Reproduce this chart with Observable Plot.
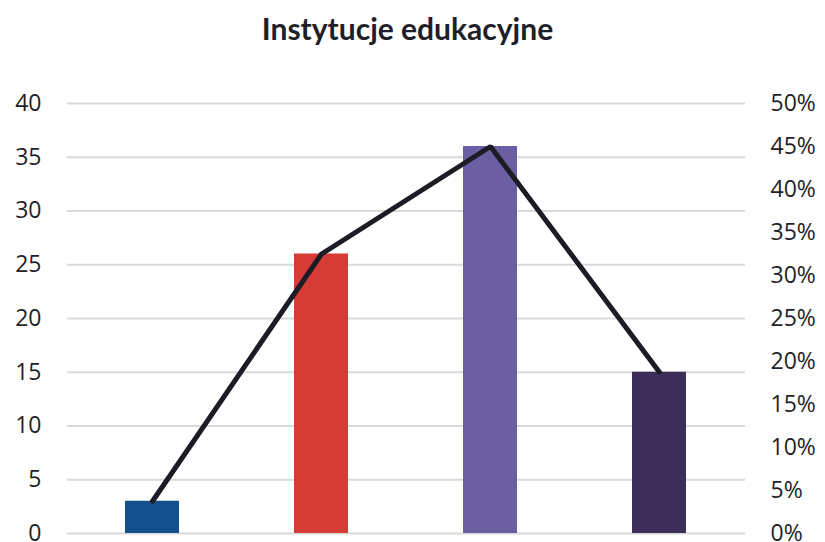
<!DOCTYPE html>
<html><head><meta charset="utf-8">
<script src="https://cdn.jsdelivr.net/npm/d3@7"></script>
<script src="https://cdn.jsdelivr.net/npm/@observablehq/plot@0.6"></script>
<style>
body{margin:0;background:#fff;}
#title{height:60px;line-height:56px;text-align:center;font-family:Lato,"Open Sans",sans-serif;font-weight:700;font-size:30px;color:#1f1f29;padding-right:10px;}
#chart svg{display:block;}
</style></head>
<body>
<div id="title">Instytucje edukacyjne</div>
<div id="chart"></div>
<script>
const categories = ["Kategoria 1","Kategoria 2","Kategoria 3","Kategoria 4"];
const counts = [3, 26, 36, 15];
const shares = [3.75, 32.5, 45, 18.75]; // percent
const colors = ["#13508d","#d63b36","#6b5ea2","#3b2e5b"];
const leftTicks = [0,5,10,15,20,25,30,35,40];
const rightTicks = [0,5,10,15,20,25,30,35,40,45,50];

const yMax = 40, pMax = 50;
const rows = categories.map((c,i)=>({cat:c, n:counts[i], p:shares[i], yp:shares[i]/pMax*yMax, color:colors[i]}));

const plot = Plot.plot({
  width: 825, height: 482,
  marginTop: 43, marginBottom: 9, marginLeft: 67, marginRight: 80,
  style: {fontFamily: "'Open Sans', sans-serif", fontSize: "23px", color: "#1f1f29", background: "#fff"},
  x: {domain: categories, paddingInner: 0.68, paddingOuter: 0.34, axis: null},
  y: {domain: [0, yMax]},
  marks: [
    Plot.ruleY(leftTicks, {stroke: "#d9d9d9", strokeWidth: 2}),
    Plot.barY(rows, {x: "cat", y: "n", fill: "color"}),
    Plot.line(rows, {x: "cat", y: "yp", stroke: "#1c1c24", strokeWidth: 5, strokeLinecap: "round", strokeLinejoin: "miter"}),
    Plot.axisY({ticks: leftTicks, tickSize: 0, tickPadding: 26, anchor: "left", label: null}),
    Plot.axisY({ticks: rightTicks.map(t=>t/pMax*yMax), tickSize: 0, tickPadding: 25, anchor: "right", label: null,
      tickFormat: d => Math.round(d/yMax*pMax) + "%"})
  ]
});
document.getElementById("chart").appendChild(plot);
</script>
</body></html>
